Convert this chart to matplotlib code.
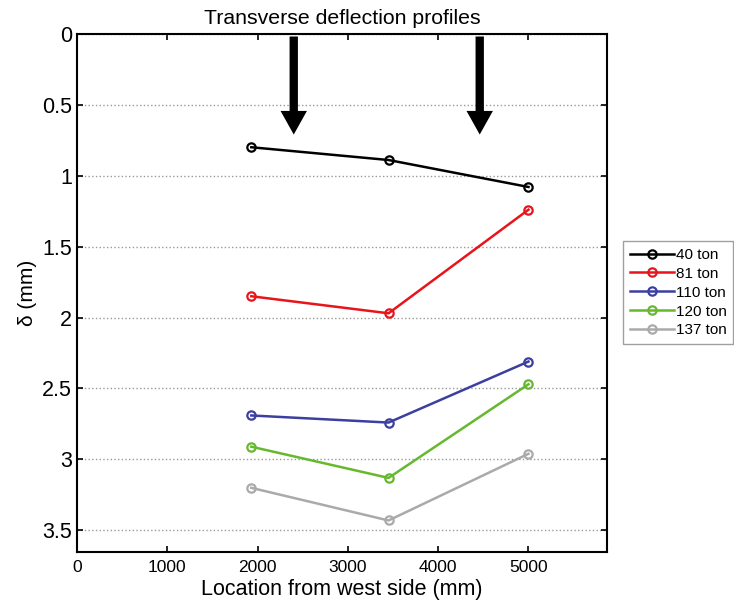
import matplotlib.pyplot as plt

plt.rcParams['font.family'] = ['Liberation Sans', 'DejaVu Sans']

# Measurement locations (mm from west side)
locations = [1930, 3450, 5000]

# Deflection per load case (mm)
loads = ["40 ton", "81 ton", "110 ton", "120 ton", "137 ton"]
defl_40 = [0.80, 0.89, 1.08]
defl_81 = [1.85, 1.97, 1.24]
defl_110 = [2.69, 2.74, 2.31]
defl_120 = [2.91, 3.13, 2.47]
defl_137 = [3.20, 3.43, 2.96]
colors = ["black", "#e8141c", "#3c3fa0", "#66b82e", "#aaaaaa"]

# Wheel load positions (mm) and arrow tip depth
arrow_x = [2400, 4460]
arrow_tip = 0.73


def main():
	fig = plt.figure(figsize=(7.34, 6.13), dpi=100)
	ax = fig.add_axes([0.105, 0.10, 0.722, 0.845])

	series = [defl_40, defl_81, defl_110, defl_120, defl_137]
	for name, vals, c in zip(loads, series, colors):
		ax.plot(locations, vals, color=c, lw=1.8, marker='o', markersize=6,
			markerfacecolor='none', markeredgewidth=1.6, label=name)

	# Load arrows
	for x in arrow_x:
		ax.annotate("", xy=(x, arrow_tip), xytext=(x, 0.0),
			arrowprops=dict(arrowstyle="simple,head_width=1.9,head_length=1.7,tail_width=0.6",
				color="black", lw=0))

	ax.set_xlim(0, 5870)
	ax.set_ylim(3.65, 0)
	ax.set_xticks([0, 1000, 2000, 3000, 4000, 5000])
	ax.set_yticks([0, 0.5, 1, 1.5, 2, 2.5, 3, 3.5])
	ax.set_yticklabels(["0", "0.5", "1", "1.5", "2", "2.5", "3", "3.5"])
	ax.yaxis.grid(True, linestyle=':', color='#999999', lw=1)
	ax.tick_params(axis='x', labelsize=12.5, pad=6)
	ax.tick_params(axis='y', labelsize=15.5)
	ax.tick_params(direction='in', top=True, right=True, length=4, width=1.2)
	for s in ax.spines.values():
		s.set_linewidth(1.5)

	ax.set_xlabel("Location from west side (mm)", fontsize=15.5, labelpad=3)
	ax.set_ylabel("δ (mm)", fontsize=15, labelpad=4)
	ax.set_title("Transverse deflection profiles", fontsize=15.3, pad=7)

	ax.legend(loc='center left', bbox_to_anchor=(1.03, 0.50), fontsize=11,
		fancybox=False, edgecolor='#888888', handlelength=2.9, borderpad=0.45,
		labelspacing=0.32, handletextpad=0.1, borderaxespad=0)

	plt.savefig("out.png")


if __name__ == "__main__":
	main()
